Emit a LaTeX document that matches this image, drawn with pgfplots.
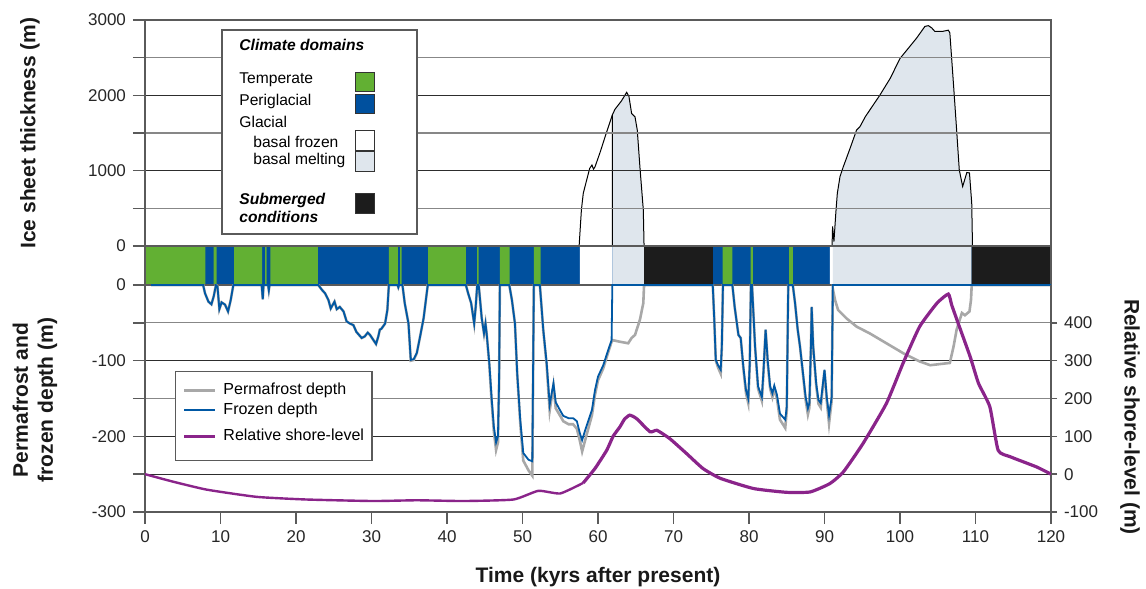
\documentclass[border=0pt]{standalone}
\usepackage{fontspec}
\setmainfont{Liberation Sans}
\usepackage{pgfplots}
\pgfplotsset{compat=1.18}
\definecolor{tempgreen}{RGB}{98,176,51}
\definecolor{periblue}{RGB}{0,80,158}
\definecolor{meltgray}{RGB}{223,230,237}
\definecolor{subblack}{RGB}{28,28,28}
\definecolor{frozblue}{RGB}{0,88,164}
\definecolor{pfgray}{RGB}{168,168,168}
\definecolor{shorepurple}{RGB}{138,36,138}
\definecolor{gridmaj}{RGB}{45,45,45}
\definecolor{gridmin}{RGB}{135,135,135}
\definecolor{axgray}{RGB}{90,90,90}

\pgfplotsset{
  common/.style={
    scale only axis, width=453pt, xmin=0, xmax=120,
    /pgf/number format/assume math mode=true,
    /pgf/number format/1000 sep={},
    tick label style={font=\fontsize{8.5}{10}\selectfont, text=black!85},
    major grid style={gridmaj, line width=0.55pt},
    minor grid style={gridmin, line width=0.55pt},
    axis line style={axgray, line width=0.7pt},
    every tick/.style={axgray, line width=0.7pt},
    tick align=outside,
  },
}

\begin{document}
\begin{tikzpicture}
\path[use as bounding box] (0,0) rectangle (573pt,294.5pt);

% ---------- climate domain strip ----------
\begin{axis}[common, at={(72.5pt,152pt)}, anchor=south west, height=19.5pt,
  ymin=0, ymax=1, xtick=\empty, ytick=\empty, axis on top]
\addplot[const plot, fill=periblue, draw=none] coordinates {(0,1) (120,1)} \closedcycle;
\addplot[const plot, fill=tempgreen, draw=none] coordinates {
 (0,1) (8.0,0) (9.1,1) (9.5,0) (11.8,1) (15.5,0) (15.9,1) (16.1,0) (16.6,1) (22.9,0)
 (32.3,1) (33.5,0) (33.8,1) (34.0,0) (37.5,1) (42.5,0) (44.0,1) (44.2,0) (47.0,1) (48.3,0)
 (51.5,1) (52.4,0) (76.5,1) (77.8,0) (80.2,1) (80.5,0) (85.3,1) (85.8,0) (120,0)} \closedcycle;
\addplot[const plot, fill=white, draw=none] coordinates {
 (0,0) (57.6,1) (61.9,0) (90.7,1) (91.1,0) (120,0)} \closedcycle;
\addplot[const plot, fill=meltgray, draw=none] coordinates {
 (0,0) (61.9,1) (66.1,0) (91.1,1) (109.5,0) (120,0)} \closedcycle;
\addplot[const plot, fill=subblack, draw=none] coordinates {
 (0,0) (66.1,1) (75.2,0) (109.5,1) (120,1)} \closedcycle;
\end{axis}

% ---------- ice sheet thickness ----------
\begin{axis}[common, at={(72.5pt,171.5pt)}, anchor=south west, height=113pt,
  ymin=0, ymax=3000, xtick=\empty, ytick={0,1000,2000,3000}, minor ytick={500,1500,2500},
  ymajorgrids, yminorgrids, ytick pos=left, major tick length=6pt, minor tick length=6pt,
  axis on top]
\addplot[draw=black, line width=0.5pt] coordinates {
 (57.5,0) (57.8,478) (58.05,700) (58.5,876) (58.9,1030) (59.2,1075) (59.4,1020) (59.6,1050)
 (60.3,1250) (61.1,1500) (61.9,1740)};
\addplot[fill=meltgray, draw=black, line width=0.5pt] coordinates {
 (61.9,0) (61.9,1740) (62.25,1815) (63.1,1925) (63.8,2040) (64.1,1985) (64.45,1760)
 (64.9,1715) (65.2,1540) (65.55,1050) (66.0,480) (66.1,0)} \closedcycle;
\addplot[fill=meltgray, draw=black, line width=0.5pt] coordinates {
 (91.0,0) (91.07,260) (91.25,60) (91.5,440) (91.7,700) (92.05,920) (92.5,1055) (93.4,1300)
 (94.25,1540) (94.7,1585) (95.4,1715) (96.0,1805) (97.35,2005) (98.7,2225) (100.0,2490)
 (100.9,2600) (102.2,2760) (103.3,2915) (103.75,2925) (104.2,2895) (104.6,2850) (105.7,2850)
 (106.4,2865) (106.6,2830) (107.1,2125) (107.5,1540) (107.85,1010) (108.3,790) (108.85,975)
 (109.2,970) (109.5,570) (109.6,0)} \closedcycle;
\end{axis}

% ---------- permafrost / frozen depth ----------
\begin{axis}[common, at={(72.5pt,38.5pt)}, anchor=south west, height=113.5pt,
  ymin=-300, ymax=0, xtick={0,10,...,120}, ytick={-300,-200,-100,0}, minor ytick={-150,-50},
  extra y ticks={-250}, extra y tick labels={}, extra y tick style={grid=major},
  ymajorgrids, yminorgrids, ytick pos=left, xtick pos=bottom,
  major tick length=6pt, minor tick length=6pt,
  legend style={at={(0.0331,0.621)}, anchor=north west, draw=axgray, line width=0.7pt,
    font=\fontsize{8}{9}\selectfont, inner xsep=3.5pt, inner ysep=5pt,
    row sep=1.5pt, column sep=3pt,
    nodes={inner sep=0.5pt, text height=5.8pt, text depth=1.7pt}},
  legend cell align=left,
  legend image code/.code={\draw[#1] (0pt,0pt) -- (15.5pt,0pt);}]
\addplot[pfgray, line width=1.3pt] coordinates {
 (0.8,0) (7.7,0) (7.95,-11) (8.4,-22) (8.8,-25.5) (9.1,-15) (9.4,0) (9.6,-2) (9.85,-32)
 (10.15,-23) (10.6,-26) (11.0,-35) (11.35,-20) (11.7,0) (15.45,0) (15.6,-19) (15.7,0)
 (16.3,0) (16.4,-7) (16.5,0) (22.95,0) (23.4,-6) (23.85,-11) (24.3,-20) (24.6,-31) (25.1,-22)
 (25.4,-32) (25.8,-29) (26.3,-35) (26.7,-48) (27.15,-51) (27.6,-53) (28.0,-62) (28.7,-70)
 (29.1,-68) (29.5,-63) (29.8,-66) (30.2,-72) (30.6,-78) (30.9,-68) (31.1,-59) (31.3,-58)
 (31.8,-51) (32.1,-33) (32.3,0) (33.45,0) (33.55,-3) (33.65,0) (34.1,0) (34.4,-24) (34.9,-51)
 (35.2,-100) (35.6,-99) (36.0,-90) (36.4,-70) (36.9,-44) (37.2,-20) (37.45,0) (42.5,0)
 (42.8,-11) (43.2,-24) (43.6,-51) (43.8,-29) (44.0,0) (44.2,0) (44.6,-44) (44.9,-64)
 (45.1,-51) (45.25,-64) (45.6,-105) (45.9,-152) (46.2,-193) (46.5,-218) (46.75,-208)
 (46.9,-128) (47.0,0) (48.25,0) (48.6,-20) (49.0,-51) (49.3,-118) (49.7,-182) (50.1,-232)
 (50.8,-245) (51.3,-252) (51.5,0) (52.3,0) (52.75,-60) (53.2,-106) (53.6,-166) (54.1,-133)
 (54.4,-163) (55.0,-173) (55.4,-180) (56.1,-184) (56.7,-184) (57.2,-190) (57.6,-206)
 (57.9,-220) (58.3,-205) (59.2,-172) (59.6,-145) (60.0,-126) (60.7,-110) (61.35,-89)
 (61.8,-75) (62.0,-73) (62.9,-75) (64.0,-77) (64.45,-70) (64.9,-66) (65.55,-46) (66.0,-24)
 (66.1,0) (75.2,0) (75.4,-46) (75.6,-100) (75.9,-109) (76.25,-117) (76.4,-83) (76.55,0)
 (77.8,0) (78.1,-29) (78.6,-66) (78.9,-70) (79.25,-110) (79.6,-143) (79.9,-156) (80.1,-105)
 (80.25,0) (80.4,0) (80.8,-81) (81.2,-137) (81.7,-153) (81.9,-119) (82.2,-59) (82.5,-105)
 (82.8,-137) (83.1,-148) (83.35,-137) (83.7,-150) (84.1,-178) (84.8,-189) (85.0,-166)
 (85.2,0) (85.8,0) (86.1,-24) (86.45,-59) (86.75,-81) (87.2,-123) (87.5,-152) (87.8,-171)
 (88.0,-162) (88.2,-81) (88.3,-29) (88.5,-81) (88.9,-133) (89.2,-157) (89.5,-162)
 (89.75,-137) (90.0,-113) (90.3,-153) (90.6,-183) (90.95,-153) (91.1,-5) (91.4,-20)
 (91.8,-33) (92.9,-44) (94.25,-55) (96.0,-64) (98.2,-77) (100.4,-90) (102.6,-101)
 (104.0,-106) (106.6,-103) (107.1,-81) (107.5,-59) (108.2,-37) (108.6,-40) (109.2,-35)
 (109.4,-20) (109.5,0) (120,0)};
\addlegendentry{Permafrost depth}
\addplot[frozblue, line width=0.9pt] coordinates {
 (0.8,0) (7.7,0) (7.95,-11) (8.4,-22) (8.8,-25.5) (9.1,-15) (9.4,0) (9.6,-2) (9.85,-32)
 (10.15,-23) (10.6,-26) (11.0,-35) (11.35,-20) (11.7,0) (15.45,0) (15.6,-19) (15.7,0)
 (16.3,0) (16.4,-7) (16.5,0) (22.95,0) (23.4,-6) (23.85,-11) (24.3,-20) (24.6,-31) (25.1,-22)
 (25.4,-32) (25.8,-29) (26.3,-35) (26.7,-48) (27.15,-51) (27.6,-53) (28.0,-62) (28.7,-70)
 (29.1,-68) (29.5,-63) (29.8,-66) (30.2,-72) (30.6,-78) (30.9,-68) (31.1,-59) (31.3,-58)
 (31.8,-51) (32.1,-33) (32.3,0) (33.45,0) (33.55,-3) (33.65,0) (34.1,0) (34.4,-24) (34.9,-51)
 (35.2,-99) (35.6,-98) (36.0,-90) (36.4,-70) (36.9,-44) (37.2,-20) (37.45,0) (42.5,0)
 (42.8,-11) (43.2,-24) (43.6,-51) (43.8,-29) (44.0,0) (44.2,0) (44.6,-44) (44.9,-64)
 (45.1,-51) (45.25,-64) (45.6,-103) (45.9,-148) (46.2,-187) (46.5,-208) (46.75,-200)
 (46.9,-125) (47.0,0) (48.25,0) (48.6,-20) (49.0,-51) (49.3,-117) (49.7,-178) (50.1,-222)
 (50.8,-231) (51.3,-233) (51.5,0) (52.3,0) (52.75,-59) (53.2,-103) (53.6,-158) (54.1,-130)
 (54.4,-155) (55.0,-166) (55.4,-173) (56.1,-176) (56.7,-176) (57.2,-180) (57.6,-196)
 (57.9,-205) (58.3,-192) (59.2,-165) (59.6,-139) (60.0,-121) (60.7,-106) (61.35,-86)
 (61.8,-73) (61.9,0) (75.2,0) (75.4,-46) (75.6,-99) (75.9,-106) (76.25,-112) (76.4,-81)
 (76.55,0) (77.8,0) (78.1,-29) (78.6,-66) (78.9,-70) (79.25,-108) (79.6,-139) (79.9,-150)
 (80.1,-103) (80.25,0) (80.4,0) (80.8,-81) (81.2,-134) (81.7,-148) (81.9,-117) (82.2,-59)
 (82.5,-103) (82.8,-134) (83.1,-143) (83.35,-133) (83.7,-145) (84.1,-170) (84.8,-178)
 (85.0,-161) (85.2,0) (85.8,0) (86.1,-24) (86.45,-59) (86.75,-81) (87.2,-121) (87.5,-148)
 (87.8,-163) (88.0,-156) (88.2,-81) (88.3,-29) (88.5,-81) (88.9,-130) (89.2,-152)
 (89.5,-156) (89.75,-134) (90.0,-112) (90.3,-148) (90.6,-172) (90.95,-148) (91.1,0) (120,0)};
\addlegendentry{Frozen depth}
\addlegendimage{shorepurple, line width=1.4pt}
\addlegendentry[text height=8.8pt, text depth=4.7pt]{Relative shore-level}
\end{axis}

% ---------- relative shore-level ----------
\begin{axis}[common, at={(72.5pt,38.5pt)}, anchor=south west, height=113.5pt,
  ymin=-100, ymax=500, axis y line*=right, axis x line=none,
  ytick={-100,0,100,200,300,400}, major tick length=3pt]
\addplot[shorepurple, line width=1.2pt, smooth, tension=0.3] coordinates {
 (0,0) (3.75,-20) (8.2,-41) (14.8,-60) (21.4,-67) (30.2,-71) (36.0,-69) (42.2,-71)
 (48.8,-67) (52.1,-44) (55.0,-51) (58.05,-23)};
\addplot[shorepurple, line width=1.6pt, smooth, tension=0.3] coordinates {
 (58.05,-23) (59.6,15) (61.15,63) (62.0,100) (62.9,125) (63.5,145) (64.2,156) (65.1,147)
 (66.9,112) (67.8,116) (69.5,94) (71.7,55) (73.9,15) (76.2,-11) (80.6,-38) (85.0,-48)
 (88.1,-47) (90.7,-25) (92.5,6) (95.1,81) (98.2,187) (100.4,293) (102.6,390) (104.9,452)
 (106.4,476) (106.85,447) (107.7,399) (109.3,310) (110.4,240) (111.9,178) (113.0,63)
 (114.6,46) (118.1,19) (120,0)};
\end{axis}

% ---------- climate domains legend ----------
\draw[axgray, line width=0.7pt, fill=white] (111pt,177.5pt) rectangle (208.5pt,279.5pt);
\begin{scope}[every node/.style={anchor=west, inner sep=0pt, text height=5.6pt, text depth=1.6pt,
  font=\fontsize{7.8}{9}\selectfont}]
\node at (119.5pt,271pt) {\bfseries\itshape Climate domains};
\node at (119.5pt,254.5pt) {Temperate};
\node at (119.5pt,243.5pt) {Periglacial};
\node at (119.5pt,232.5pt) {Glacial};
\node at (126.5pt,222.5pt) {basal frozen};
\node at (126.5pt,214pt) {basal melting};
\node at (119.5pt,194pt) {\bfseries\itshape Submerged};
\node at (119.5pt,185pt) {\bfseries\itshape conditions};
\end{scope}
\draw[black!80, line width=0.5pt, fill=tempgreen] (177.5pt,248.65pt) rectangle (187pt,258.35pt);
\draw[black!80, line width=0.5pt, fill=periblue] (177.5pt,237.85pt) rectangle (187pt,247pt);
\draw[black!80, line width=0.5pt, fill=white] (177.5pt,219pt) rectangle (187pt,229pt);
\draw[black!80, line width=0.5pt, fill=meltgray] (177.5pt,208.5pt) rectangle (187pt,218.5pt);
\draw[black!80, line width=0.5pt, fill=subblack] (177.5pt,187.5pt) rectangle (187pt,197.5pt);

% ---------- axis titles ----------
\begin{scope}[every node/.style={font=\fontsize{10.5}{12.5}\selectfont\bfseries, text=black!90}]
\node[rotate=90] at (15pt,228pt) {Ice sheet thickness (m)};
\node[rotate=90, align=center] at (17.5pt,94.5pt) {Permafrost and\\frozen depth (m)};
\node[rotate=-90] at (565pt,86pt) {Relative shore-level (m)};
\node at (299pt,6pt) {Time (kyrs after present)};
\end{scope}
\end{tikzpicture}
\end{document}
